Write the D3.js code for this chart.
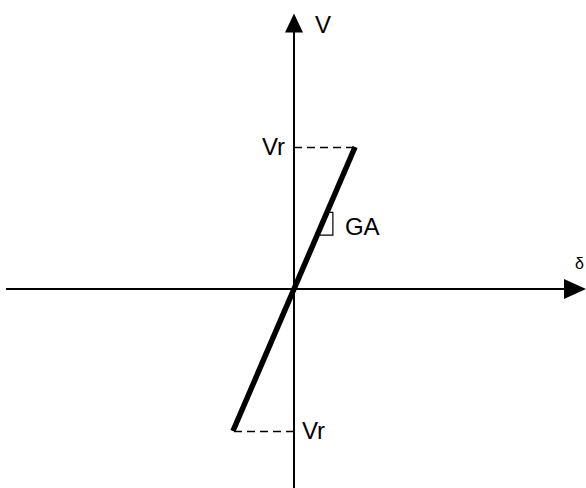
<!DOCTYPE html>
<html>
<head>
<meta charset="utf-8">
<script src="https://cdn.jsdelivr.net/npm/d3@7"></script>
<style>
  body { margin: 0; background: #fff; }
  text { font-family: Arial, "Liberation Sans", sans-serif; fill: #000; }
</style>
</head>
<body>
<div id="chart"></div>
<script>
    var w = 586;
    var h = 488;

    // axis extents (normalised: Vr = 1, delta at Vr = deltaR)
    var xDomain = [-1, 1];
    var yDomain = [-1, 1];
    var deltaR = 0.212;
    var vTop = 1.94;     // end of V axis (arrow tip)
    var vBottom = -1.41; // bottom of V axis

    // the shear force / deformation line
    var lineDelta = [-deltaR, deltaR];
    var lineV = [-1, 1];

    // small slope marker next to the line
    var slopeV = [0.38, 0.54];
    var slopeDelta = 0.135;

    var x = d3.scaleLinear()
              .domain(xDomain)
              .range([6, 582]);
    var y = d3.scaleLinear()
              .domain(yDomain)
              .range([431, 147]);

    var svg = d3.select('#chart').append('svg')
               .attr('width', w)
               .attr('height', h);

    // horizontal axis
    svg.append('line')
        .attr('x1', x(-1)).attr('y1', y(0))
        .attr('x2', x(1)).attr('y2', y(0))
        .attr('stroke', '#000')
        .attr('stroke-width', 2);
    svg.append('polygon')
        .attr('points', [[x(1) - 18, y(0) - 10], [x(1) + 4, y(0)], [x(1) - 18, y(0) + 10]].join(' '))
        .attr('fill', '#000');

    // vertical axis
    svg.append('line')
        .attr('x1', x(0)).attr('y1', y(vBottom))
        .attr('x2', x(0)).attr('y2', y(vTop) + 15)
        .attr('stroke', '#000')
        .attr('stroke-width', 2);
    svg.append('polygon')
        .attr('points', [[x(0) - 9, y(vTop) + 19], [x(0), y(vTop)], [x(0) + 9, y(vTop) + 19]].join(' '))
        .attr('fill', '#000');

    // dashed guides to Vr
    svg.append('line')
        .attr('x1', x(0)).attr('y1', y(1) + 0.5)
        .attr('x2', x(deltaR)).attr('y2', y(1) + 0.5)
        .attr('stroke', '#000')
        .attr('stroke-width', 1.5)
        .attr('stroke-dasharray', '8,5');
    svg.append('line')
        .attr('x1', x(0)).attr('y1', y(-1) + 0.5)
        .attr('x2', x(-deltaR)).attr('y2', y(-1) + 0.5)
        .attr('stroke', '#000')
        .attr('stroke-width', 1.5)
        .attr('stroke-dasharray', '8,5');

    // slope marker
    var slopeLo = slopeV[0] * deltaR, slopeHi = slopeV[1] * deltaR;
    svg.append('path')
        .attr('d', 'M' + [x(slopeHi), y(slopeV[1])] +
                   'L' + [x(slopeDelta), y(slopeV[1])] +
                   'L' + [x(slopeDelta), y(slopeV[0])] +
                   'L' + [x(slopeLo), y(slopeV[0])])
        .attr('fill', 'none')
        .attr('stroke', '#000')
        .attr('stroke-width', 1.2);

    // main line
    svg.append('line')
        .attr('x1', x(lineDelta[0])).attr('y1', y(lineV[0]))
        .attr('x2', x(lineDelta[1])).attr('y2', y(lineV[1]))
        .attr('stroke', '#000')
        .attr('stroke-width', 5.5);

    // labels
    svg.append('text')
        .attr('x', x(0) + 21).attr('y', y(vTop) + 19)
        .style('font-size', '24px')
        .text('V');
    svg.append('text')
        .attr('x', x(0) - 9).attr('y', y(1) + 8)
        .attr('text-anchor', 'end')
        .style('font-size', '24px')
        .text('Vr');
    svg.append('text')
        .attr('x', x(0) + 8).attr('y', y(-1) + 8)
        .style('font-size', '24px')
        .text('Vr');
    svg.append('text')
        .attr('x', x(slopeDelta) + 12).attr('y', y(slopeV[0]))
        .style('font-size', '24px')
        .text('GA');
    svg.append('text')
        .attr('x', 575).attr('y', y(0) - 20)
        .style('font-size', '16px')
        .text('δ');
</script>
</body>
</html>
